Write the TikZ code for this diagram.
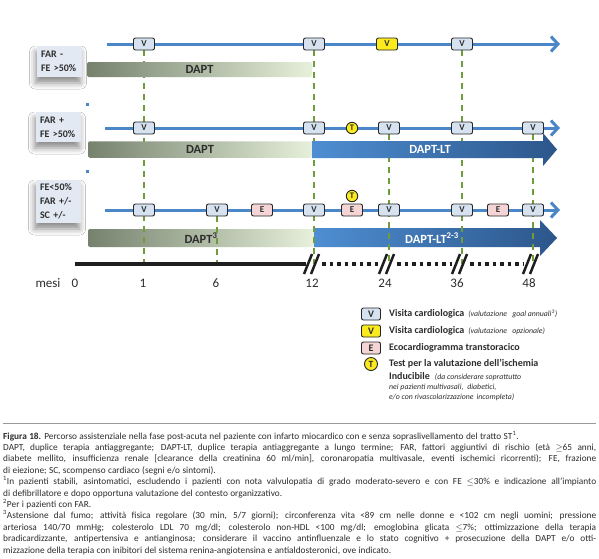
\documentclass[tikz,border=0pt]{standalone}
\usepackage{fontspec}
\setmainfont{Carlito}
\usetikzlibrary{arrows.meta,shadows.blur}
\definecolor{tlblue}{RGB}{74,134,200}
\definecolor{vfill}{RGB}{214,226,240}
\definecolor{yfill}{RGB}{250,234,30}
\definecolor{efill}{RGB}{244,212,212}
\definecolor{dgreen}{RGB}{112,156,60}
\definecolor{daptL}{RGB}{118,130,110}
\definecolor{daptR}{RGB}{230,240,218}
\definecolor{ltL}{RGB}{78,142,210}
\definecolor{ltR}{RGB}{44,86,138}
\definecolor{labfill}{RGB}{226,233,243}
\definecolor{txt}{RGB}{45,45,45}
\definecolor{axiscol}{RGB}{30,30,30}
\newcommand\capj[1]{\hbox to 593pt{\spaceskip=0.26em plus 0.8em minus 0.1em\relax#1}}
\newcommand\capl[1]{\hbox{\spaceskip=0.26em plus 0.8em minus 0.1em\relax#1}}
\begin{document}
\begin{tikzpicture}[x=1pt,y=-1pt,
  tl/.style={tlblue,line width=3pt,-{Straight Barb[length=7pt,width=15pt]}},
  mk/.style={draw=black!85,line width=0.9pt,rounded corners=2pt,minimum width=21pt,minimum height=12pt,inner sep=0pt,font=\fontsize{9}{9}\selectfont\bfseries,text=txt},
  vb/.style={mk,fill=vfill},
  yb/.style={mk,fill=yfill},
  eb/.style={mk,fill=efill},
  tc/.style={circle,draw=black!85,line width=0.9pt,fill=yfill,minimum size=11.5pt,inner sep=0pt,font=\fontsize{8.5}{8.5}\selectfont\bfseries,text=txt},
  gl/.style={dgreen,line width=2pt,dash pattern=on 6pt off 5pt},
  lab/.style={fill=labfill,inner sep=0pt,minimum width=45pt,text width=37pt,align=left,text=txt,
     font=\fontsize{10}{14}\selectfont\bfseries,
     blur shadow={shadow xshift=-1.5pt,shadow yshift=-6pt,shadow blur radius=6pt,shadow opacity=45}},
  dapt/.style={rounded corners=2pt,left color=daptL,right color=daptR,inner sep=0pt,text=txt,font=\fontsize{12.5}{12.5}\selectfont\bfseries},
  lttext/.style={text=white,font=\fontsize{12.5}{12.5}\selectfont\bfseries},
  axl/.style={anchor=base,text=txt,font=\fontsize{13}{13}\selectfont},
  slash/.style={axiscol,line width=2.5pt},
  kmk/.style={minimum width=19pt,minimum height=12pt,font=\fontsize{10}{10}\selectfont\bfseries},
  legt/.style={anchor=west,inner sep=0pt,text=txt,font=\fontsize{10}{11}\selectfont\bfseries},
  legi/.style={anchor=west,inner sep=0pt,text=txt,font=\fontsize{7.8}{8}\selectfont\itshape},
  captxt/.style={anchor=base west,inner sep=0pt,text=txt,font=\fontsize{9.3}{10}\selectfont}
]
\fill[white] (0,0) rectangle (599,558);
\useasboundingbox (0,0) rectangle (599,558);

% group labels
\node[lab,minimum height=31pt] (g1) at (59.5,61.5) {FAR -\\FE >50\%};
\node[lab,minimum height=30pt] (g2) at (58.5,127) {FAR +\\FE >50\%};
\node[lab,minimum height=43pt] (g3) at (58.5,201.5) {FE<50\%\\FAR +/-\\SC +/-};

% small dots
\fill[tlblue] (85.5,102.5) rectangle (88.5,105.5);
\fill[tlblue] (85.5,169.5) rectangle (88.5,172.5);

% row 3 bars
\node[dapt,minimum width=226pt,minimum height=18pt] (d3) at (201,238) {DAPT\textsuperscript{3}};
\shade[left color=ltL,right color=ltR] (314,228) -- (540,228) -- (540,220) -- (557,238) -- (540,256) -- (540,247) -- (314,247) -- cycle;
\node[lttext] (lt3) at (432,238) {DAPT-LT\textsuperscript{2-3}};

% month coordinates
\coordinate (t1) at (144,50);   \coordinate (a1) at (144,264);
\coordinate (t6) at (217,216);  \coordinate (a6) at (217,264);
\coordinate (t12) at (314,50);  \coordinate (a12) at (314,264);
\coordinate (t24) at (389,134); \coordinate (a24) at (389,264);
\coordinate (t36) at (462,50);  \coordinate (a36) at (462,264);
\coordinate (t48) at (533,134); \coordinate (a48) at (533,264);
\foreach \m in {1,6,12,24,36,48} \draw[gl] (t\m) -- (a\m);

% rows 1-2 bars
\node[dapt,minimum width=225pt,minimum height=15pt] (d1) at (199.5,69.5) {DAPT};
\node[dapt,minimum width=224pt,minimum height=16.5pt] (d2) at (200,149.5) {DAPT};
\shade[left color=ltL,right color=ltR] (312,141) -- (543,141) -- (543,133) -- (557,149.5) -- (543,166) -- (543,158) -- (312,158) -- cycle;
\node[lttext] (lt2) at (430,149.5) {DAPT-LT};

% timelines
\coordinate (r1s) at (107,44); \coordinate (r1e) at (560,44);
\coordinate (r2s) at (105,128); \coordinate (r2e) at (560,128);
\coordinate (r3s) at (105,210); \coordinate (r3e) at (560,210);
\draw[tl] (r1s) -- (r1e);
\draw[tl] (r2s) -- (r2e);
\draw[tl] (r3s) -- (r3e);

% row 1 markers
\node[vb] (v11) at (144,44) {V};
\node[vb] (v12) at (314,44) {V};
\node[yb] (y13) at (387,44) {V};
\node[vb] (v14) at (462,44) {V};
% row 2 markers
\node[vb] (v21) at (144,128) {V};
\node[vb] (v22) at (314,128) {V};
\node[tc] (t23) at (352,128) {T};
\node[vb] (v24) at (389,128) {V};
\node[vb] (v25) at (462,128) {V};
\node[vb] (v26) at (533,128) {V};
% row 3 markers
\node[vb] (v31) at (144,210) {V};
\node[vb] (v32) at (217,210) {V};
\node[eb] (e33) at (262,210) {E};
\node[vb] (v34) at (314,210) {V};
\node[eb] (e35) at (352,210) {E};
\node[tc] (t35) at (352,196) {T};
\node[vb] (v36) at (389,210) {V};
\node[vb] (v37) at (462,210) {V};
\node[eb] (e38) at (498,210) {E};
\node[vb] (v39) at (533,210) {V};

% time axis
\coordinate (ax0) at (75,264); \coordinate (ax12a) at (306,264);
\draw[axiscol,line width=3.5pt] (ax0) -- (ax12a);
\coordinate (p1) at (322,264); \coordinate (p2) at (379,264);
\coordinate (p3) at (397,264); \coordinate (p4) at (452,264);
\coordinate (p5) at (470,264); \coordinate (p6) at (523,264);
\foreach \a/\b in {p1/p2,p3/p4,p5/p6}
  \draw[axiscol,line width=3.5pt,dash pattern=on 3.5pt off 4pt] (\a) -- (\b);
\foreach \c in {314,389,462,533}{
  \draw[slash] (\c-10,274) -- (\c-2,254);
  \draw[slash] (\c-3,274) -- (\c+5,254);
}
\node[axl] (lmesi) at (48,287) {mesi};
\node[axl] (l0) at (75,287) {0};
\node[axl] (l1) at (143,287) {1};
\node[axl] (l6) at (216,287) {6};
\node[axl] (l12) at (312,287) {12};
\node[axl] (l24) at (385,287) {24};
\node[axl] (l36) at (457,287) {36};
\node[axl] (l48) at (529,287) {48};

% legend
\node[vb,kmk] (kv) at (371,314) {V};
\node[yb,kmk] (ky) at (371,331) {V};
\node[eb,kmk] (ke) at (371,348) {E};
\node[tc,minimum size=13pt,font=\fontsize{9.5}{9.5}\selectfont\bfseries] (kt) at (371,364) {T};
\node[legt] (kvt) at (389,314) {Visita cardiologica \,{\fontsize{7.8}{8}\selectfont\mdseries\itshape (valutazione\;\, goal annuali\textsuperscript{3})}};
\node[legt] (kyt) at (389,331) {Visita cardiologica \,{\fontsize{7.8}{8}\selectfont\mdseries\itshape (valutazione\;\, opzionale)}};
\node[legt] (ket) at (389,348) {Ecocardiogramma transtoracico};
\node[legt] (ktt) at (389,364) {Test per la valutazione dell’ischemia};
\node[legt] (ktt2) at (389,377) {Inducibile \;{\fontsize{7.8}{8}\selectfont\mdseries\itshape (da considerare soprattutto}};
\node[legi] (ktt3) at (389,387) {nei pazienti multivasali,\; diabetici,};
\node[legi] (ktt4) at (389,397) {e/o con rivascolarizzazione\, incompleta)};

% caption
\coordinate (cr1) at (3,423); \coordinate (cr2) at (596,423);
\draw[black!40,line width=0.8pt] (cr1) -- (cr2);
\node[captxt] (c1) at (3,439) {\capl{\textbf{Figura 18.} Percorso assistenziale nella fase post-acuta nel paziente con infarto miocardico con e senza sopraslivellamento del tratto ST\textsuperscript{1}.}};
\node[captxt] (c2) at (3,450.4) {\capj{DAPT, duplice terapia antiaggregante; DAPT-LT, duplice terapia antiaggregante a lungo termine; FAR, fattori aggiuntivi di rischio (età $\geq$65 anni,}};
\node[captxt] (c3) at (3,461.8) {\capj{diabete mellito, insufficienza renale [clearance della creatinina 60 ml/min], coronaropatia multivasale, eventi ischemici ricorrenti); FE, frazione}};
\node[captxt] (c4) at (3,473.2) {\capl{di eiezione; SC, scompenso cardiaco (segni e/o sintomi).}};
\node[captxt] (c5) at (3,484.6) {\capj{\textsuperscript{1}In pazienti stabili, asintomatici, escludendo i pazienti con nota valvulopatia di grado moderato-severo e con FE $\leq$30\% e indicazione all’impianto}};
\node[captxt] (c6) at (3,496) {\capl{di defibrillatore e dopo opportuna valutazione del contesto organizzativo.}};
\node[captxt] (c7) at (3,507.4) {\capl{\textsuperscript{2}Per i pazienti con FAR.}};
\node[captxt] (c8) at (3,518.8) {\capj{\textsuperscript{3}Astensione dal fumo; attività fisica regolare (30 min, 5/7 giorni); circonferenza vita <89 cm nelle donne e <102 cm negli uomini; pressione}};
\node[captxt] (c9) at (3,530.2) {\capj{arteriosa 140/70 mmHg; colesterolo LDL 70 mg/dl; colesterolo non-HDL <100 mg/dl; emoglobina glicata $\leq$7\%; ottimizzazione della terapia}};
\node[captxt] (c10) at (3,541.6) {\capj{bradicardizzante, antipertensiva e antianginosa; considerare il vaccino antinfluenzale e lo stato cognitivo + prosecuzione della DAPT e/o otti-}};
\node[captxt] (c11) at (3,553) {\capl{mizzazione della terapia con inibitori del sistema renina-angiotensina e antialdosteronici, ove indicato.}};
\end{tikzpicture}
\end{document}
